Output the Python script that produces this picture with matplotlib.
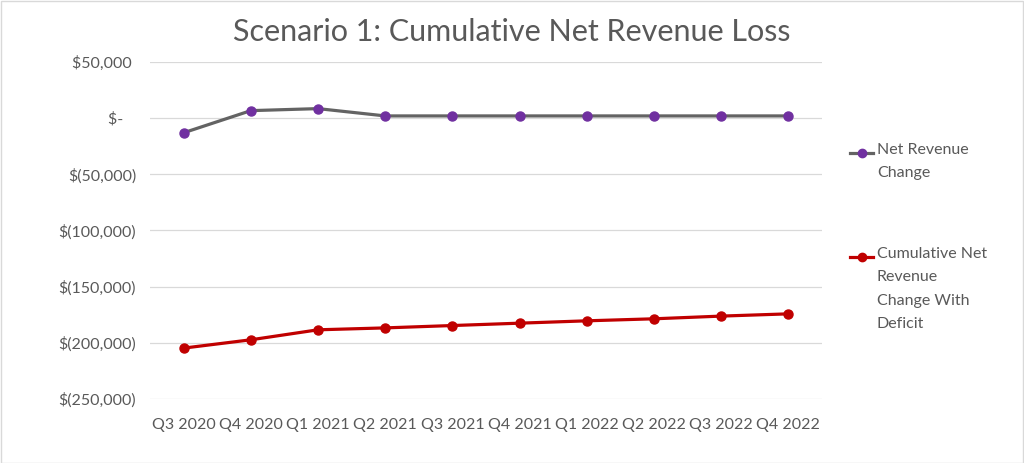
import numpy as np
import matplotlib
matplotlib.use("Agg")
import matplotlib.pyplot as plt
from matplotlib.lines import Line2D
from matplotlib.patches import Rectangle
from matplotlib.ticker import FuncFormatter

plt.rcParams['font.family'] = ['Lato', 'DejaVu Sans']

# quarters and values
quarters = ["Q3 2020", "Q4 2020", "Q1 2021", "Q2 2021", "Q3 2021",
            "Q4 2021", "Q1 2022", "Q2 2022", "Q3 2022", "Q4 2022"]
net_change = [-13000, 6700, 8500, 2000, 2000, 2000, 2000, 2000, 2000, 2000]
cum_change = [-204700, -197300, -188400, -186700, -184600,
              -182500, -180400, -178600, -176200, -174200]
series_names = ["Net Revenue\nChange", "Cumulative Net\nRevenue\nChange With\nDeficit"]

gray_txt = "#595959"
c_net_line = "#636363"
c_net_mark = "#7030A0"
c_cum = "#C00000"

fig = plt.figure(figsize=(10.24, 4.63), dpi=100)
ax = fig.add_axes([150/1024, 1-399/463, 672/1024, 337/463])

x = np.arange(len(quarters))
ax.plot(x, net_change, color=c_net_line, lw=2.3, marker='o', ms=6.5,
        mfc=c_net_mark, mec=c_net_mark, zorder=3)
ax.plot(x, cum_change, color=c_cum, lw=2.3, marker='o', ms=6.5,
        mfc=c_cum, mec=c_cum, zorder=3)

ax.set_xlim(-0.5, len(quarters) - 0.5)
ax.set_ylim(-250000, 50000)
ax.set_yticks(np.arange(-250000, 50001, 50000))
ax.set_xticks(x)
ax.set_xticklabels(quarters)

def acct(v, pos):
    if v == 0:
        return "$-   "
    if v < 0:
        return "$({:,.0f})".format(-v)
    return "${:,.0f} ".format(v)

ax.yaxis.set_major_formatter(FuncFormatter(acct))
ax.tick_params(axis='both', length=0, labelsize=11.5, colors=gray_txt)
ax.tick_params(axis='y', pad=10)
ax.tick_params(axis='x', pad=14)
ax.grid(axis='y', color="#D9D9D9", lw=0.9)
ax.set_axisbelow(True)
for s in ax.spines.values():
    s.set_visible(False)

fig.text(0.5, 1-32/463, "Scenario 1: Cumulative Net Revenue Loss",
         ha='center', va='center', fontsize=22, color=gray_txt)

# legend drawn by hand so the marker sits on the first text line
leg_y = [153, 257]
leg_cols = [(c_net_line, c_net_mark), (c_cum, c_cum)]
for (lc, mc), name, yy in zip(leg_cols, series_names, leg_y):
    yf = 1 - yy/463
    fig.add_artist(Line2D([850/1024, 873/1024], [yf, yf], color=lc, lw=2.3,
                          transform=fig.transFigure))
    fig.add_artist(Line2D([861.5/1024], [yf], marker='o', ms=6, color=mc,
                          transform=fig.transFigure))
    fig.text(877/1024, yf + 10/463, name, ha='left', va='top', fontsize=11.5,
             color=gray_txt, linespacing=1.85)

fig.add_artist(Rectangle((0.001, 0.001), 0.998, 0.997, fill=False,
                         edgecolor="#D9D9D9", lw=1, transform=fig.transFigure))

fig.savefig("out.png", dpi=100)
